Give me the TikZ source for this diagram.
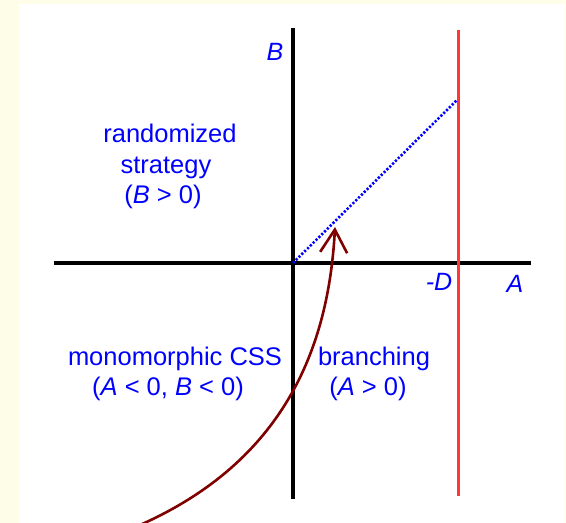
\documentclass[tikz,border=0pt]{standalone}
\usepackage{fontspec}
\setmainfont{Liberation Sans}
\usetikzlibrary{arrows.meta}
\definecolor{cream}{RGB}{254,253,232}
\definecolor{lblblue}{RGB}{0,0,255}
\definecolor{redline}{RGB}{255,55,55}
\definecolor{darkred}{RGB}{128,0,0}
\tikzset{
  lbl/.style={text=lblblue, anchor=base, inner sep=0pt, font=\fontsize{25.5}{30}\selectfont},
  axislbl/.style={text=lblblue, anchor=base, inner sep=0pt, font=\fontsize{25}{30}\selectfont\itshape},
  axisline/.style={line width=3.6pt, black},
  bound/.style={line width=3pt, redline},
  diag/.style={line width=2.6pt, lblblue, dash pattern=on 2.2pt off 1.8pt},
  pointer/.style={line width=2.6pt, darkred, -{Straight Barb[length=23pt,width=27pt,line width=2.6pt]}}
}
\begin{document}
\begin{tikzpicture}[x=1pt,y=-1pt]
\useasboundingbox (0,0) rectangle (566,523);
\fill[cream] (0,0) rectangle (566,523);
\fill[white] (19,4) rectangle (565,523);
% coordinates
\coordinate (O) at (293,263);
\coordinate (xl) at (54,263);
\coordinate (xr) at (531,263);
\coordinate (yt) at (293,28);
\coordinate (yb) at (293,499);
\coordinate (rt) at (458.5,30);
\coordinate (rb) at (458.5,496);
\coordinate (dend) at (457,100);
\coordinate (as) at (140,525);
\coordinate (at) at (335,227);
% axes
\draw[axisline] (xl) -- (xr);
\draw[axisline] (yt) -- (yb);
\draw[bound] (rt) -- (rb);
\draw[diag] (O) -- (dend);
% labels
\node[axislbl] (lB) at (275,60) {B};
\node[axislbl] (lA) at (515,292) {A};
\node[axislbl] (lD) at (439,290) {-D};
\node[lbl] (r1) at (170,142) {randomized};
\node[lbl] (r2) at (166,173) {strategy};
\node[lbl] (r3) at (163,203) {(\textit{B} > 0)};
\node[lbl] (m1) at (175,365) {monomorphic CSS};
\node[lbl] (m2) at (168,395) {(\textit{A} < 0, \textit{B} < 0)};
\node[lbl] (b1) at (374,365) {branching};
\node[lbl] (b2) at (368,395) {(\textit{A} > 0)};
% arrow
\draw[pointer] (as) .. controls (275,465) and (328,360) .. (at);
\end{tikzpicture}
\end{document}
